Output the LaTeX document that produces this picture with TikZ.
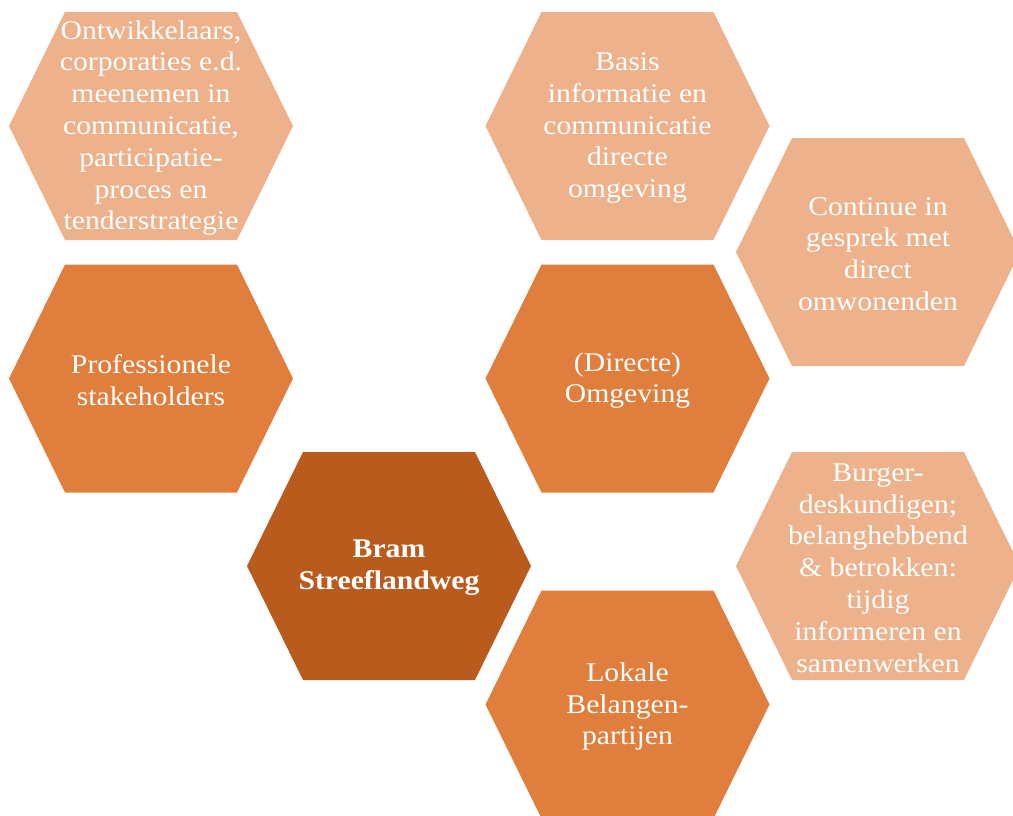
\documentclass[tikz,border=0pt]{standalone}
\usepackage{fontspec}
\setmainfont{Liberation Serif}[FakeStretch=1.1]
\definecolor{hexlight}{HTML}{EDB28B}
\definecolor{hexmid}{HTML}{E07F3D}
\definecolor{hexdark}{HTML}{B95B1C}
\newcommand\hexcell[5]{%
  \fill[#3] (#1-142,#2) -- (#1-86,#2-114) -- (#1+86,#2-114) -- (#1+142,#2) -- (#1+86,#2+114) -- (#1-86,#2+114) -- cycle;
  \node[hextext] (#4) at (#1,#2+2) {#5};}
\begin{document}
\begin{tikzpicture}[x=1pt,y=-1pt,
  hextext/.style={text=white,align=center,font=\fontsize{27}{31.8}\selectfont,inner sep=0pt}]
\useasboundingbox (0,0) rectangle (1013,815);
\begin{scope}
\clip (0,0) rectangle (1013,815);
\hexcell{151}{126}{hexlight}{ontw}{Ontwikkelaars,\\corporaties e.d.\\meenemen in\\communicatie,\\participatie-\\proces en\\tenderstrategie}
\hexcell{151}{378.5}{hexmid}{prof}{Professionele\\stakeholders}
\hexcell{389}{566}{hexdark}{bram}{\textbf{Bram}\\\textbf{Streeflandweg}}
\hexcell{627.5}{126}{hexlight}{basis}{Basis\\informatie en\\communicatie\\directe\\omgeving}
\hexcell{627.5}{378.5}{hexmid}{omg}{(Directe)\\Omgeving}
\hexcell{878}{252}{hexlight}{cont}{Continue in\\gesprek met\\direct\\omwonenden}
\hexcell{878}{566}{hexlight}{burg}{Burger-\\deskundigen;\\belanghebbend\\\& betrokken:\\tijdig\\informeren en\\samenwerken}
\hexcell{627.5}{704.5}{hexmid}{lok}{Lokale\\Belangen-\\partijen}
\end{scope}
\end{tikzpicture}
\end{document}
